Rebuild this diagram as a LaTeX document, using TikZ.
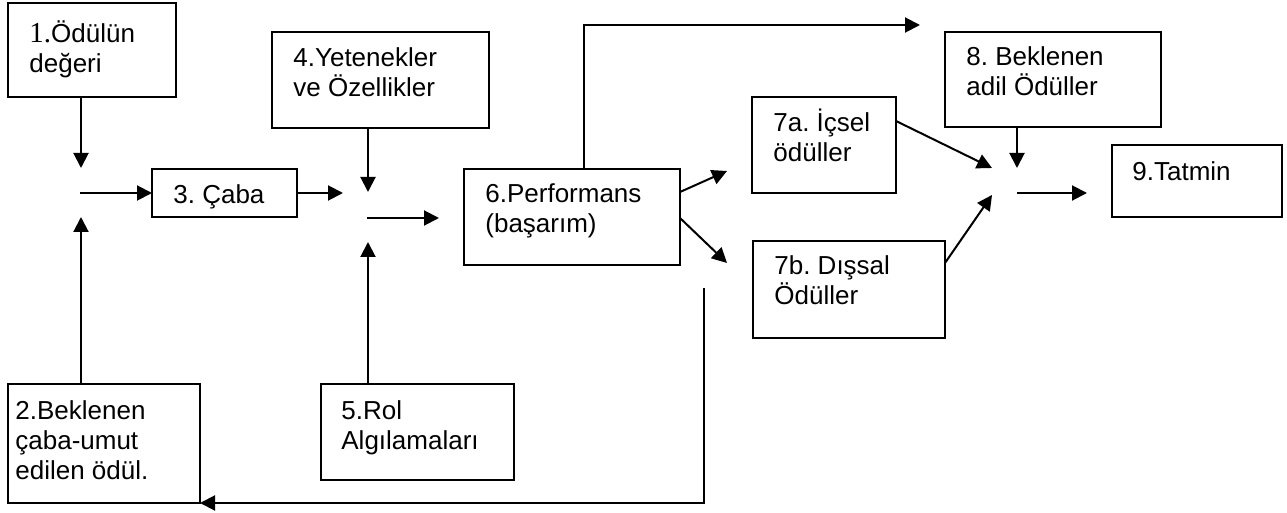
\documentclass[tikz,border=0pt]{standalone}
\usepackage{fontspec}
\setmainfont{Liberation Sans}
\newfontfamily\tnr{Liberation Serif}
\usetikzlibrary{arrows.meta,calc}

\tikzset{
kutu/.style={draw, line width=1pt, inner sep=0pt, outer sep=0pt, anchor=north west},
yazi/.style={anchor=base west, align=left, inner sep=0pt, font=\fontsize{13}{15}\selectfont\frenchspacing},
pil/.style={line width=1pt, -{Triangle[length=7.5pt,width=7.5pt]}}
}

\begin{document}
\begin{tikzpicture}[x=0.5pt,y=-0.5pt]
\useasboundingbox (0,0) rectangle (1287,513);

% Kutular
\node[kutu, minimum width=84pt, minimum height=47pt] (b1) at (8,3) {};
\node[kutu, minimum width=96pt, minimum height=59.5pt] (b2) at (8,384) {};
\node[kutu, minimum width=72.5pt, minimum height=24pt] (b3) at (152,169) {};
\node[kutu, minimum width=108.5pt, minimum height=48pt] (b4) at (272,32) {};
\node[kutu, minimum width=96.5pt, minimum height=48pt] (b5) at (321,384) {};
\node[kutu, minimum width=108pt, minimum height=48pt] (b6) at (464,169) {};
\node[kutu, minimum width=72pt, minimum height=48pt] (b7a) at (752,97) {};
\node[kutu, minimum width=96pt, minimum height=48.5pt] (b7b) at (753,241) {};
\node[kutu, minimum width=108pt, minimum height=47.5pt] (b8) at (945,32) {};
\node[kutu, minimum width=85pt, minimum height=36pt] (b9) at (1112,145) {};

% Yazilar (base = son satir)
\node[yazi] (t1) at ([shift={(10.5pt,-35pt)}]b1.north west)
{{\tnr\fontsize{14.5}{15}\selectfont 1.}Ödülün\\değeri};
\node[yazi] (t2) at ([shift={(3.5pt,-48pt)}]b2.north west)
{2.Beklenen\\çaba-umut\\edilen ödül.};
\node[yazi] (t3) at ([shift={(10.5pt,-17.5pt)}]b3.north west)
{3. Çaba};
\node[yazi] (t4) at ([shift={(10.5pt,-32.5pt)}]b4.north west)
{4.Yetenekler\\ve Özellikler};
\node[yazi] (t5) at ([shift={(10pt,-33pt)}]b5.north west)
{5.Rol\\Algılamaları};
\node[yazi] (t6) at ([shift={(10.5pt,-32pt)}]b6.north west)
{6.Performans\\(başarım)};
\node[yazi] (t7a) at ([shift={(10.5pt,-32.5pt)}]b7a.north west)
{7a. İçsel\\ödüller};
\node[yazi] (t7b) at ([shift={(10.5pt,-32pt)}]b7b.north west)
{7b. Dışsal\\Ödüller};
\node[yazi] (t8) at ([shift={(10.5pt,-32pt)}]b8.north west)
{8. Beklenen\\adil Ödüller};
\node[yazi] (t9) at ([shift={(10pt,-18pt)}]b9.north west)
{9.Tatmin};

% Birlesme noktalari
\coordinate (g1) at (81,193);
\coordinate (g2) at (368,218);
\coordinate (g3) at (1017,193);
\coordinate (ust) at (920,25);
\coordinate (d7a) at (727,171);
\coordinate (d7b) at (727,263);
\coordinate (geri) at (704,288);

% Oklar
\draw[pil] (b1.south -| g1) -- ($(g1)+(0,-25)$);
\draw[pil] ($(g1)+(-1,0)$) -- (b3.west);
\draw[pil] (b2.north -| g1) -- ($(g1)+(0,24)$);

\draw[pil] (b3.east) -- ($(g2)+(-25,-25)$);
\draw[pil] (b4.south -| g2) -- ($(g2)+(0,-26)$);
\draw[pil] ($(g2)+(-1,0)$) -- ($(g2)+(71,0)$);
\draw[pil] (b5.north -| g2) -- ($(g2)+(0,24)$);

\draw[pil] ([xshift=6pt]b6.north) |- (ust);
\draw[pil] ([yshift=12.5pt]b6.east) -- (d7a);
\draw[pil] ([yshift=-0.5pt]b6.east) -- (d7b);
\draw[pil] (geri) |- (b2.south east);

\draw[pil] ([yshift=12pt]b7a.east) -- ($(g3)+(-25,-25)$);
\draw[pil] ([yshift=13.25pt]b7b.east) -- ($(g3)+(-25,2)$);
\draw[pil] (b8.south -| g3) -- ($(g3)+(0,-25)$);
\draw[pil] (g3) -- ($(g3)+(70,0)$);

\end{tikzpicture}
\end{document}
